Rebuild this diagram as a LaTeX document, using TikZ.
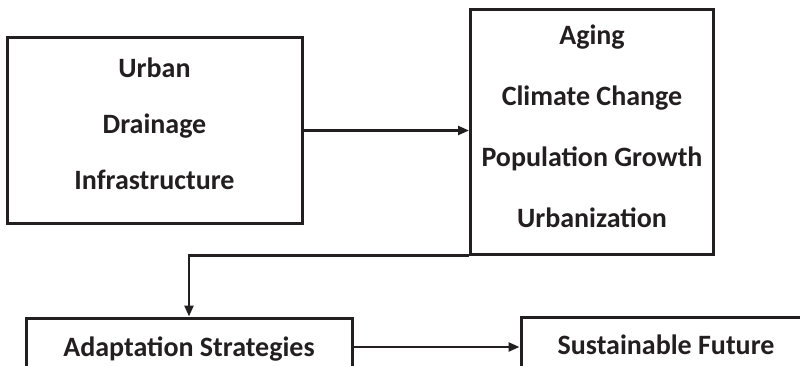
\documentclass[tikz,border=0pt]{standalone}
\usepackage{fontspec}
\setmainfont{Carlito}
\usetikzlibrary{positioning,calc}
\usetikzlibrary{arrows.meta}
\definecolor{InkGray}{RGB}{35,31,32}
\tikzset{
  box/.style={draw=InkGray,line width=3pt,fill=white,inner sep=0pt,
    align=center,font=\fontsize{28}{34}\selectfont\bfseries,text=InkGray},
  link/.style={draw=InkGray,line width=2.4pt,-{Triangle[length=11pt,width=9pt]}},
}

\begin{document}
\begin{tikzpicture}[x=1pt,y=-1pt]
\useasboundingbox (0,0) rectangle (800,366);
\clip (0,0) rectangle (800,366);
\node[box,minimum width=295pt,minimum height=185pt,text depth=14pt] (urban) at (154.5,130.5)
  {Urban\\[22pt]Drainage\\[22pt]Infrastructure};
\node[box,minimum width=243pt,minimum height=244pt,text depth=11pt] (threats) at (592,132)
  {Aging\\[27pt]Climate Change\\[27pt]Population Growth\\[27pt]Urbanization};
\node[box,minimum width=326pt,minimum height=54pt,text height=27pt] (adapt) at (189,345)
  {Adaptation Strategies};
\node[box,minimum width=290pt,minimum height=56pt] (future) at (666,345)
  {Sustainable Future};
\draw[link] (urban.east) -- (urban.east -| threats.west);
\draw[link] (threats.south west) -| (adapt.north);
\draw[link] ([yshift=-2pt]adapt.east) -- ([yshift=-2pt]adapt.east -| future.west);
\end{tikzpicture}
\end{document}
